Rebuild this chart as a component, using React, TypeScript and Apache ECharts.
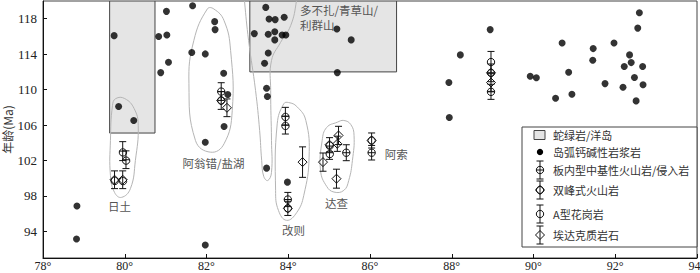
import React, { useEffect, useRef } from 'react';
import * as echarts from 'echarts';

// ---- data ----
const xTickValues = [78, 80, 82, 84, 86, 88, 90, 92, 94];
const yTickValues = [94, 98, 102, 106, 110, 114, 118];

// ophiolite / ocean island boxes: [xMin, xMax, yMin, yMax]
const ophioliteBoxes: number[][] = [
  [79.63, 80.74, 105.1, 120],
  [83.06, 86.65, 112, 120],
];

// island arc calc-alkaline magmatic rocks [lon, age]
const arcPoints: number[][] = [
  [79.74, 116.09], [79.85, 108.09], [80.22, 106.52], [80.83, 116.0], [81.02, 118.83],
  [81.03, 116.17], [80.88, 111.92], [81.07, 113.08], [81.66, 119.47], [81.64, 114.18],
  [81.97, 114.03], [82.2, 117.67], [82.21, 116.77], [82.42, 111.85], [82.52, 109.44],
  [82.43, 105.84], [81.97, 104.07], [78.83, 96.86], [78.82, 93.14], [81.97, 92.46],
  [83.45, 119.28], [83.53, 117.97], [83.68, 117.9], [83.9, 118.16], [83.17, 116.32],
  [83.51, 116.24], [83.67, 116.54], [83.67, 115.61], [83.85, 116.17], [83.94, 116.17],
  [83.51, 114.14], [83.42, 112.97], [85.19, 116.85], [85.54, 115.61], [85.2, 111.92],
  [83.47, 110.16], [83.49, 109.22], [88.21, 113.92], [87.93, 110.8], [87.94, 106.85],
  [83.47, 101.14], [83.98, 99.56], [88.94, 116.77], [90.7, 115.27], [89.92, 111.51],
  [90.07, 111.33], [90.86, 111.96], [90.54, 109.03], [90.94, 109.48], [91.46, 114.63],
  [91.45, 113.31], [91.75, 110.68], [91.97, 115.27], [92.35, 113.92], [92.39, 113.05],
  [92.22, 112.6], [92.67, 112.6], [92.47, 111.36], [92.19, 110.27], [92.68, 110.54],
  [92.51, 108.73], [92.55, 116.94], [92.59, 118.68],
];

// dated samples with error: [lon, age, ±err, kind]
// kind 0 板内型中基性火山岩/侵入岩, 1 双峰式火山岩, 2 A型花岗岩, 3 埃达克质岩石
const errorPoints: number[][] = [
  [79.95, 103.06, 1.07, 0], [80.03, 102.09, 1.0, 0], [79.75, 99.83, 1.0, 1], [79.95, 99.83, 1.0, 1],
  [82.36, 109.78, 1.0, 0], [82.36, 108.77, 1.0, 1], [82.5, 107.95, 1.0, 3],
  [83.93, 107.0, 1.0, 0], [83.93, 105.99, 1.0, 0], [83.99, 97.6, 0.8, 0], [83.99, 96.6, 0.8, 1],
  [84.35, 101.82, 1.72, 3],
  [84.85, 101.82, 1.03, 3], [85.01, 102.88, 0.75, 0], [85.01, 103.78, 0.8, 1], [85.2, 103.89, 0.86, 3],
  [85.23, 104.83, 1.03, 3], [85.42, 102.88, 0.9, 0], [85.18, 99.95, 1.07, 3],
  [86.04, 104.26, 0.85, 1], [86.04, 102.88, 0.82, 0],
  [88.96, 113.11, 1.2, 2], [88.96, 111.89, 1.0, 1], [88.96, 110.8, 1.0, 3], [88.96, 109.75, 0.85, 0],
];

// hand-drawn grouping envelopes (lon, age)
const envRitu: number[][] = [
  [79.7, 108.21], [79.65, 104.26], [79.65, 100.32], [79.75, 98.4], [79.92, 97.84], [80.14, 98.85],
  [80.26, 102.0], [80.33, 105.94], [80.23, 107.86], [80.0, 108.99], [79.78, 108.99],
];
const envAweng: number[][] = [
  [82.02, 119.1], [81.69, 115.54], [81.57, 110.68], [81.73, 104.26], [82.1, 102.94], [82.43, 103.89],
  [82.63, 107.64], [82.59, 114.4], [82.43, 117.78], [82.18, 119.1],
];
const envDuobuzha: number[][] = [
  [82.88, 123], [82.93, 120], [83.03, 115.53], [83.2, 109.9], [83.3, 105.39], [83.35, 102.01], [83.4, 100.21],
  [83.5, 99.75], [83.59, 100.66], [83.59, 104.27], [83.57, 109.9], [83.59, 113.28], [83.81, 115.31],
  [84.06, 117.23], [84.2, 120], [84.26, 123],
];
const envGaize: number[][] = [
  [83.89, 108.4], [83.73, 106.14], [83.69, 98.63], [83.76, 96.37], [83.96, 95.25], [84.21, 96.15],
  [84.38, 98.07], [84.51, 102.38], [84.43, 106.52], [84.21, 108.09], [84.01, 108.54],
];
const envDacha: number[][] = [
  [85.2, 106.32], [84.94, 105.73], [84.83, 104.26], [84.79, 100.88], [84.94, 99.08], [85.12, 98.44],
  [85.36, 98.63], [85.48, 99.75], [85.57, 102.01], [85.61, 104.82], [85.53, 106.06], [85.36, 106.52],
];
const envelopes = [envRitu, envAweng, envDuobuzha, envGaize, envDacha];

// region labels
const regionNames = ['日土', '阿翁错/盐湖', '改则', '达查', '阿索', '多不扎/青草山/\n利群山'];
const regionLon = [79.87, 82.17, 84.13, 85.18, 86.64, 84.29];
const regionAge = [96.83, 101.75, 94.12, 97.24, 102.76, 119.8];
const regionAlign = ['center', 'center', 'center', 'center', 'center', 'left'];
const regionVAlign = ['middle', 'middle', 'middle', 'middle', 'middle', 'top'];

const legendNames = ['蛇绿岩/洋岛', '岛弧钙碱性岩浆岩', '板内型中基性火山岩/侵入岩', '双峰式火山岩', 'A型花岗岩', '埃达克质岩石'];

// ---- drawing helpers ----
const INK = '#111';
const SERIF = 'Liberation Serif';
const CJK = 'Noto Sans CJK SC';

function markerEls(kind: number, cx: number, cy: number): any[] {
  const st = { stroke: INK, lineWidth: 1, fill: 'none' };
  const r = 3.7;
  const d = 4.5;
  const circle = { type: 'circle', shape: { cx, cy, r }, style: st };
  const hline = { type: 'line', shape: { x1: cx - r, y1: cy, x2: cx + r, y2: cy }, style: st };
  const diamond = {
    type: 'polygon',
    shape: { points: [[cx, cy - d], [cx + d, cy], [cx, cy + d], [cx - d, cy]] },
    style: st,
  };
  if (kind === 0) return [circle, hline];
  if (kind === 1) return [circle, diamond];
  if (kind === 2) return [circle];
  return [diamond];
}

function errorBarEls(cx: number, yTop: number, yBot: number): any[] {
  const st = { stroke: INK, lineWidth: 1 };
  const c = 3.5;
  return [
    { type: 'line', shape: { x1: cx, y1: yTop, x2: cx, y2: yBot }, style: st },
    { type: 'line', shape: { x1: cx - c, y1: yTop, x2: cx + c, y2: yTop }, style: st },
    { type: 'line', shape: { x1: cx - c, y1: yBot, x2: cx + c, y2: yBot }, style: st },
  ];
}

function buildLegend(): any[] {
  const bx = 522, by = 127, bw = 175, bh = 120;
  const iconX = 540, textX = 553;
  const rowsY = [135, 152, 170, 190, 214, 235];
  const els: any[] = [
    { type: 'rect', shape: { x: bx, y: by, width: bw, height: bh }, style: { fill: '#fff', stroke: '#444', lineWidth: 1 } },
    { type: 'rect', shape: { x: 534, y: rowsY[0] - 4.5, width: 11, height: 9 }, style: { fill: '#e5e5e5', stroke: '#444', lineWidth: 1 } },
    { type: 'circle', shape: { cx: iconX, cy: rowsY[1], r: 3.2 }, style: { fill: '#000' } },
  ];
  for (let i = 2; i < 6; i++) {
    const y = rowsY[i];
    els.push(...errorBarEls(iconX, y - 9, y + 9));
    els.push(...markerEls(i - 2, iconX, y));
  }
  legendNames.forEach((n, i) => {
    els.push({
      type: 'text',
      x: textX,
      y: rowsY[i],
      style: { text: n, fill: '#333', fontSize: 11, fontFamily: CJK, verticalAlign: 'middle', align: 'left' },
    });
  });
  return els.map((e) => ({ ...e, silent: true, z: 100 }));
}

export default function App() {
  const ref = useRef<HTMLDivElement>(null);
  useEffect(() => {
    const chart = echarts.init(ref.current as HTMLDivElement, null, { renderer: 'svg' });
    const option: any = {
      animation: false,
      backgroundColor: '#fff',
      grid: {
        left: 43, right: 3, top: 1, bottom: 15,
        containLabel: false, outerBoundsMode: 'none',
        show: true, borderColor: '#444', borderWidth: 1,
      },
      xAxis: {
        type: 'value',
        min: 78,
        max: 94,
        interval: 2,
        axisLine: { onZero: false, lineStyle: { color: INK, width: 1 } },
        axisTick: { inside: true, length: 4, lineStyle: { color: INK } },
        axisLabel: {
          formatter: (v: number) => `${v}°`,
          color: '#222',
          fontFamily: SERIF,
          fontSize: 12,
          margin: 2,
          customValues: xTickValues,
        },
        splitLine: { show: false },
      },
      yAxis: {
        type: 'value',
        min: 91,
        max: 120,
        name: '年龄(Ma)',
        nameLocation: 'middle',
        nameGap: 30,
        nameMoveOverlap: false,
        nameRotate: 90,
        nameTextStyle: { color: '#333', fontFamily: CJK, fontSize: 12 },
        axisLine: { onZero: false, lineStyle: { color: INK, width: 1 } },
        axisTick: { inside: true, length: 4, lineStyle: { color: INK }, customValues: yTickValues },
        axisLabel: { color: '#222', fontFamily: SERIF, fontSize: 13, margin: 6, customValues: yTickValues },
        splitLine: { show: false },
      },
      series: [
        {
          type: 'custom',
          clip: true,
          silent: true,
          z: 1,
          itemStyle: { color: '#e5e5e5' },
          data: ophioliteBoxes.map((b) => [b[0], b[2]]),
          renderItem: (params: any, api: any) => {
            const b = ophioliteBoxes[params.dataIndex];
            const p1 = api.coord([b[0], b[3]]);
            const p2 = api.coord([b[1], b[2]]);
            return {
              type: 'rect',
              shape: { x: p1[0], y: p1[1], width: p2[0] - p1[0], height: p2[1] - p1[1] },
              style: { fill: '#e5e5e5', stroke: '#444', lineWidth: 1 },
            };
          },
        },
        {
          type: 'custom',
          clip: true,
          silent: true,
          z: 2,
          itemStyle: { color: '#b5b5b5' },
          data: envelopes.map((e) => [e[1][0], e[1][1]]),
          renderItem: (params: any, api: any) => {
            const env = envelopes[params.dataIndex];
            return {
              type: 'polygon',
              shape: { points: env.map((p) => api.coord(p)), smooth: 0.45 },
              style: { fill: 'none', stroke: '#b5b5b5', lineWidth: 1 },
            };
          },
        },
        {
          type: 'scatter',
          silent: true,
          z: 3,
          symbol: 'circle',
          symbolSize: 7,
          itemStyle: { color: '#000' },
          data: arcPoints,
        },
        {
          type: 'custom',
          silent: true,
          z: 4,
          itemStyle: { color: INK },
          data: errorPoints,
          renderItem: (params: any, api: any) => {
            const x = api.value(0);
            const y = api.value(1);
            const e = api.value(2);
            const k = api.value(3);
            const c = api.coord([x, y]);
            const t = api.coord([x, y + e]);
            const b = api.coord([x, y - e]);
            return {
              type: 'group',
              children: [...errorBarEls(c[0], t[1], b[1]), ...markerEls(k, c[0], c[1])],
            };
          },
        },
        {
          type: 'custom',
          silent: true,
          z: 5,
          itemStyle: { color: '#555' },
          data: regionNames.map((_, i) => [regionLon[i], regionAge[i]]),
          renderItem: (params: any, api: any) => {
            const i = params.dataIndex;
            const p = api.coord([regionLon[i], regionAge[i]]);
            return {
              type: 'text',
              x: p[0],
              y: p[1],
              style: {
                text: regionNames[i],
                fill: '#555',
                fontSize: 11.5,
                lineHeight: 15,
                fontFamily: CJK,
                align: regionAlign[i],
                verticalAlign: regionVAlign[i],
              },
            };
          },
        },
      ],
      graphic: buildLegend(),
    };
    chart.setOption(option);
    return () => chart.dispose();
  }, []);
  return <div ref={ref} style={{ position: 'fixed', left: 0, top: 0, width: 700, height: 273 }} />;
}
